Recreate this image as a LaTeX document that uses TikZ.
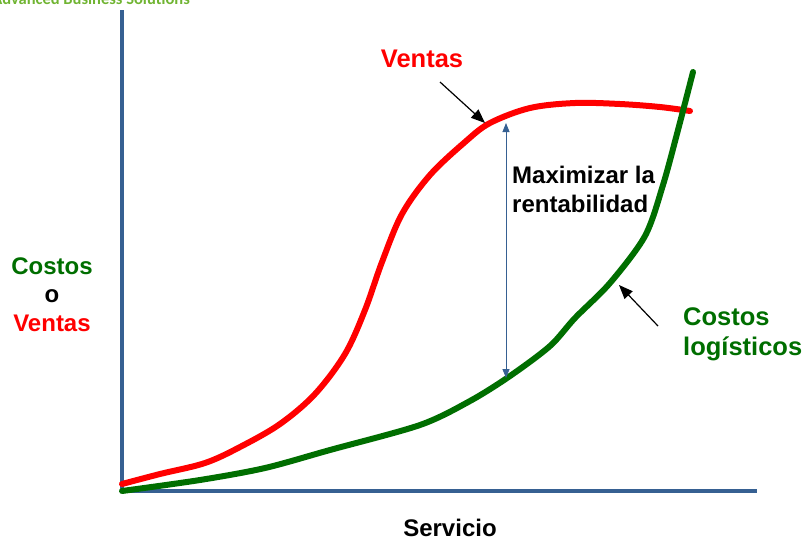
\documentclass[tikz,border=0pt]{standalone}
\usepackage{fontspec}
\setmainfont{Liberation Sans}
\newfontfamily\hdrfont{Carlito}
\usetikzlibrary{arrows.meta}
\definecolor{axisblue}{RGB}{54,96,146}
\definecolor{dkgreen}{RGB}{0,110,0}
\definecolor{hdrgreen}{RGB}{112,180,50}
\tikzset{
  axisline/.style={axisblue, line width=4pt},
  curve/.style={line width=6pt, line join=round, line cap=round},
  lbl/.style={font=\bfseries\fontsize{24}{28}\selectfont, align=left, inner sep=0pt},
  biglbl/.style={font=\bfseries\fontsize{25.5}{30}\selectfont, align=left, inner sep=0pt},
  pointer/.style={black, line width=1.2pt, -{Triangle[length=14pt,width=11pt]}}
}
\begin{document}
\begin{tikzpicture}[x=1pt,y=-1pt]
\useasboundingbox (0,0) rectangle (809,542);
\clip (0,0) rectangle (809,542);
\node[anchor=base east, inner sep=0pt, text=hdrgreen, font=\hdrfont\bfseries\fontsize{16.5}{18}\selectfont] (hdr) at (190,4.5) {Advanced Business Solutions};
% axes
\coordinate (o) at (122,491);
\coordinate (ytop) at (122,10);
\coordinate (xend) at (757,491);
\draw[axisline] (ytop) -- (o) -- (xend);
% sales curve
\draw[curve, red] plot[smooth, tension=0.55] coordinates {(122,484) (160,474) (205,463) (240,447) (280,424) (315,394) (345,354) (365,310) (382,262) (402,214) (430,175) (465,142) (490,123) (530,108) (575,103) (620,104) (660,107) (690,111)};
% cost curve
\draw[curve, dkgreen] plot[smooth, tension=0.5] coordinates {(122,491) (200,480) (265,468) (330,450) (420,425) (470,401) (510,376) (550,346) (575,318) (610,283) (645,236) (663,185) (678,130) (693,72)};
% double arrow
\coordinate (top) at (506,123);
\coordinate (bot) at (506,378);
\draw[axisblue, line width=0.8pt, {Triangle[length=9pt,width=7pt]}-{Triangle[length=9pt,width=7pt]}] (top) -- (bot);
% pointers
\coordinate (vs) at (440,82);
\coordinate (ve) at (485,123);
\draw[pointer] (vs) -- (ve);
\coordinate (cs) at (658,326);
\coordinate (ce) at (619,285);
\draw[pointer] (cs) -- (ce);
% labels
\node[biglbl, text=red, anchor=base] (ventas) at (422,67) {Ventas};
\node[lbl, anchor=base west] (max1) at (512,183) {Maximizar la};
\node[lbl, anchor=base west] (max2) at (512,212) {rentabilidad};
\node[biglbl, text=dkgreen, anchor=base west] (cl1) at (683,325) {Costos};
\node[biglbl, text=dkgreen, anchor=base west] (cl2) at (683,355) {logísticos};
\node[lbl, text=dkgreen, anchor=base] (yl1) at (52,274) {Costos};
\node[lbl, anchor=base] (yl2) at (52,302) {o};
\node[lbl, text=red, anchor=base] (yl3) at (52,331) {Ventas};
\node[lbl, anchor=base] (xl) at (450,536) {Servicio};
\end{tikzpicture}
\end{document}
